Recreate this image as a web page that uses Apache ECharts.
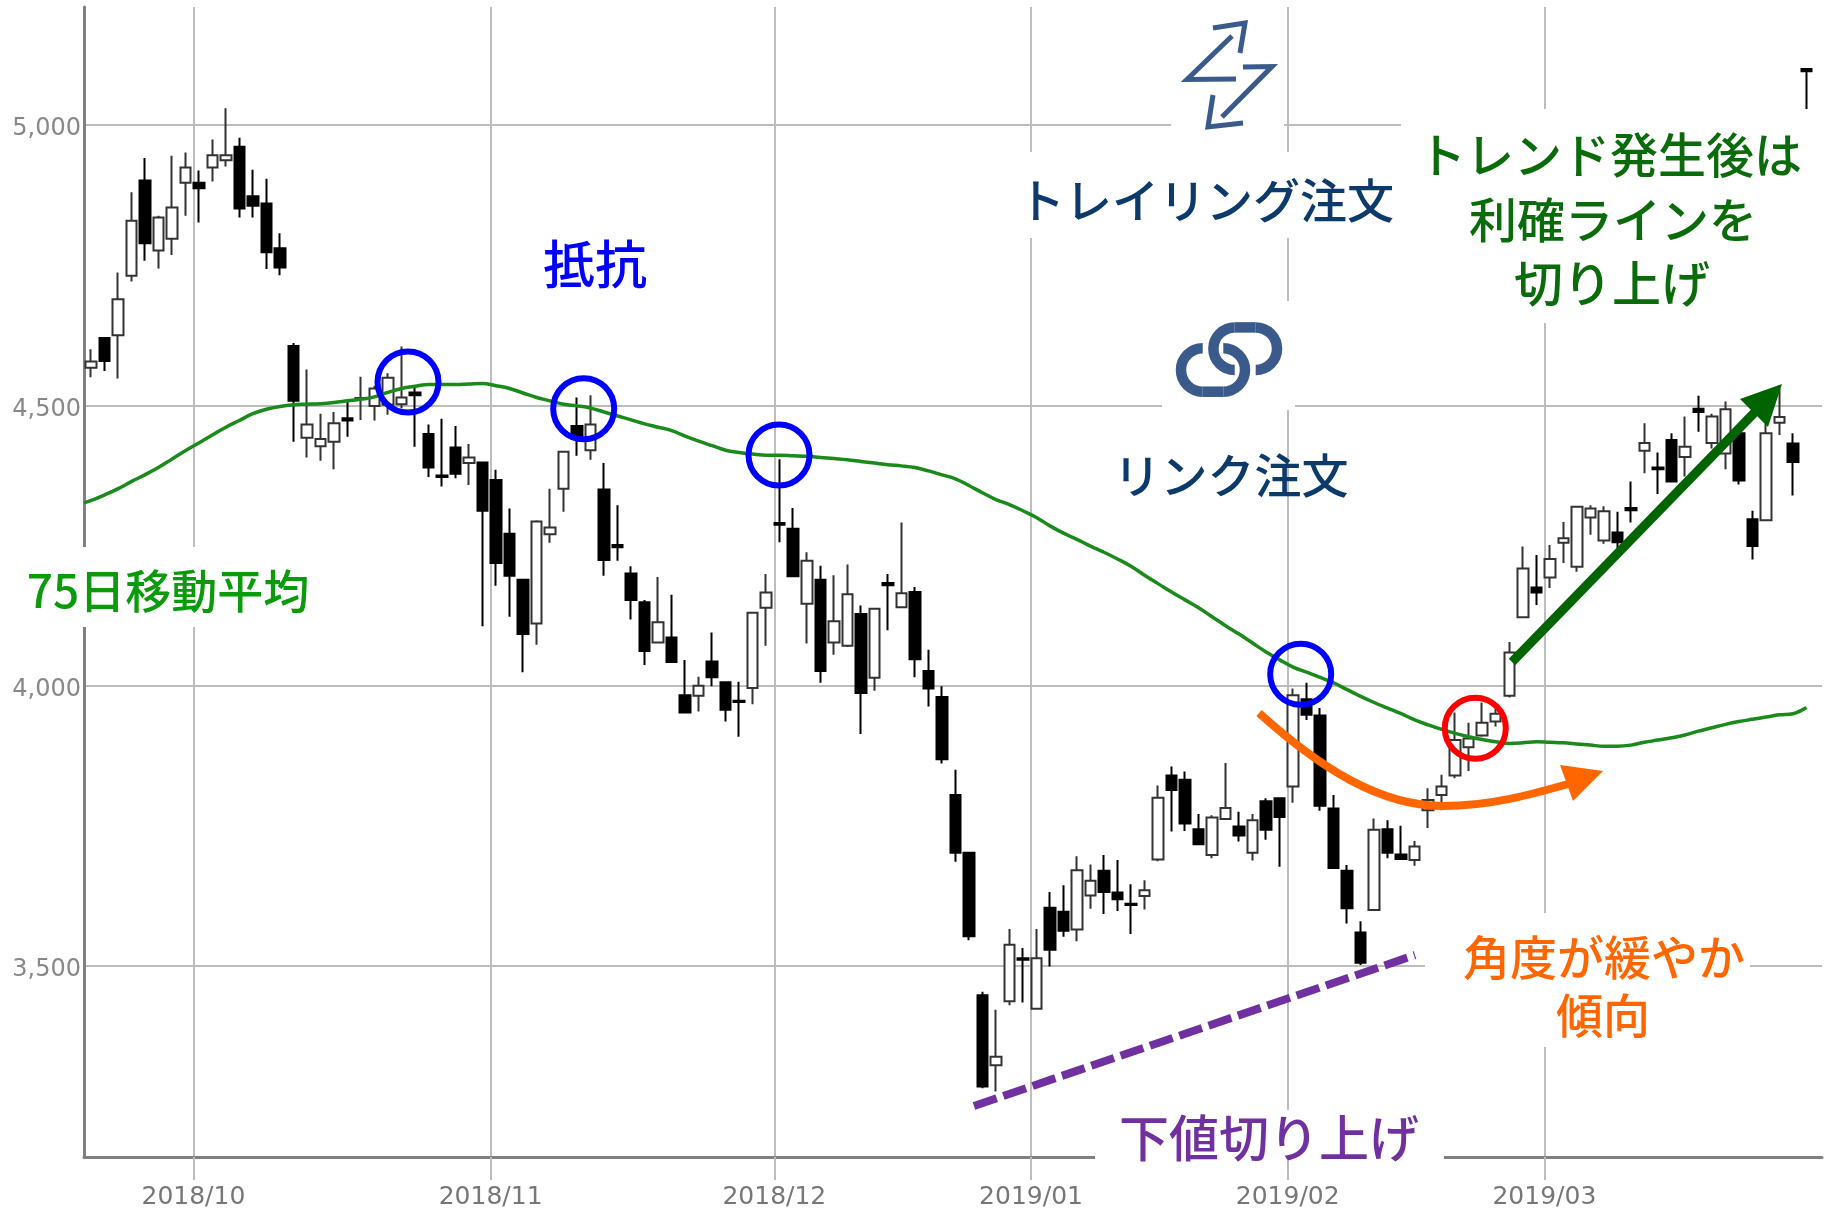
<!DOCTYPE html>
<html>
<head>
<meta charset="utf-8">
<title>トレイリング注文</title>
<style>
  html, body { margin: 0; padding: 0; background: #fff; }
  #main { width: 1831px; height: 1211px; }
</style>
<script src="https://cdn.jsdelivr.net/npm/echarts@6/dist/echarts.min.js"></script>
</head>
<body>
<div id="main"></div>
<script>
const opens = [
  4567,4620,4625,4731,4901,4776,4797,4897,4897,4924,
  4937,4961,4873,4860,4780,4606,4442,4427,4435,4477,
  4511,4499,4501,4502,4523,4449,4375,4425,4397,4398,
  4367,4271,4189,4111,4270,4351,4463,4420,4350,4251,
  4200,4149,4077,4086,3983,3982,4043,4006,3973,3996,
  4139,4290,4280,4146,4189,4077,4071,4128,4014,4183,
  4140,4167,4026,3980,3805,3702,3448,3323,3437,3514,
  3424,3604,3597,3565,3626,3670,3631,3611,3625,3690,
  3840,3832,3744,3698,3762,3749,3702,3794,3799,3820,
  3976,3947,3781,3670,3560,3600,3744,3699,3689,3778,
  3805,3840,3890,3911,3936,3982,4122,4175,4193,4255,
  4212,4300,4259,4273,4317,4419,4389,4438,4408,4494,
  4433,4414,4450,4297,4295,4469,4432,5100
]
const closes = [
  4578,4579,4689,4829,4789,4835,4853,4924,4887,4946,
  4946,4851,4856,4773,4746,4508,4466,4440,4468,4473,
  4513,4530,4549,4514,4518,4389,4372,4378,4407,4312,
  4219,4196,4092,4293,4282,4417,4441,4466,4224,4247,
  4153,4062,4113,4042,3952,4000,4015,3957,3971,4130,
  4166,4287,4195,4223,4026,4115,4163,3987,4137,4179,
  4165,4047,3995,3869,3702,3553,3285,3338,3538,3511,
  3514,3529,3563,3671,3652,3632,3619,3609,3635,3800,
  3814,3754,3717,3765,3782,3733,3760,3743,3766,3983,
  3948,3786,3675,3603,3506,3743,3702,3691,3713,3796,
  3820,3903,3906,3934,3950,4059,4209,4166,4226,4263,
  4319,4316,4311,4256,4313,4433,4386,4364,4426,4488,
  4480,4493,4366,4249,4450,4479,4399,5096
]
const lows = [
  4550,4561,4548,4721,4758,4744,4768,4838,4826,4899,
  4926,4835,4835,4743,4732,4435,4407,4401,4386,4444,
  4474,4473,4483,4495,4426,4372,4355,4370,4358,4106,
  4178,4123,4024,4073,4255,4310,4410,4403,4196,4223,
  4118,4037,4076,4041,3951,3954,3999,3936,3909,3967,
  4071,4256,4195,4075,4005,4055,4069,3914,3991,4099,
  4139,4015,3963,3861,3686,3546,3282,3276,3430,3435,
  3423,3499,3552,3544,3602,3593,3598,3557,3601,3687,
  3740,3741,3716,3692,3761,3722,3688,3725,3677,3791,
  3939,3777,3674,3576,3502,3599,3692,3689,3679,3746,
  3778,3835,3848,3909,3927,3979,4121,4144,4174,4219,
  4203,4269,4253,4245,4291,4379,4342,4363,4373,4453,
  4423,4386,4359,4225,4295,4447,4339,5028
]
const highs = [
  4600,4622,4737,4880,4941,4838,4945,4951,4919,4974,
  5030,4977,4920,4904,4807,4611,4564,4485,4488,4507,
  4551,4535,4557,4605,4533,4466,4476,4463,4431,4400,
  4385,4316,4190,4295,4351,4418,4514,4518,4397,4322,
  4213,4153,4194,4162,4046,4016,4095,4007,4007,4131,
  4199,4404,4317,4238,4214,4197,4216,4143,4138,4199,
  4291,4176,4064,3999,3850,3703,3454,3422,3566,3532,
  3566,3632,3644,3696,3681,3698,3689,3646,3653,3822,
  3856,3847,3771,3769,3862,3775,3771,3799,3800,3995,
  4005,3960,3805,3680,3580,3763,3760,3750,3723,3817,
  3841,3952,3934,3970,3969,4078,4248,4233,4251,4292,
  4320,4322,4320,4310,4364,4468,4416,4450,4480,4517,
  4485,4507,4456,4312,4468,4530,4450,5100
]
const ma75 = [
  4330,4340,4351,4364,4376,4389,4404,4419,4433,4447,
  4461,4473,4485,4493,4498,4501,4502,4503,4505,4508,
  4511,4515,4523,4530,4534,4537,4537,4537,4538,4539,
  4535,4530,4522,4514,4508,4502,4499,4495,4488,4481,
  4474,4467,4461,4455,4445,4436,4428,4420,4416,4413,
  4411,4411,4410,4409,4407,4405,4403,4400,4397,4394,
  4392,4389,4383,4376,4369,4357,4344,4332,4323,4312,
  4300,4285,4272,4261,4249,4238,4226,4213,4197,4182,
  4167,4153,4139,4123,4107,4092,4076,4060,4046,4033,
  4024,4015,4005,3993,3981,3970,3960,3950,3939,3930,
  3922,3915,3909,3904,3900,3897,3898,3900,3899,3898,
  3896,3894,3892,3892,3894,3899,3903,3907,3912,3919,
  3925,3931,3936,3940,3944,3948,3950,3961
]
// the line comes in from the left, already running at the axis
const maAtAxis = 4326
const monthLabels = ['2018/10', '2018/11', '2018/12', '2019/01', '2019/02', '2019/03']
const monthStarts = [8, 30, 51, 70, 89, 108]
const priceTicks = [3500, 4000, 4500, 5000]

// month lines sit just left of the first candle of the month
const monthTicks = monthStarts.map(function(i) { return i - 0.4 })
const candleData = opens.map(function(o, i) { return [i, o, closes[i], lows[i], highs[i]] })
const maData = [[-0.5, maAtAxis]].concat(ma75.map(function(v, i) { return [i, v] }))

const JP_FONT = '"Noto Sans CJK JP", sans-serif'
const ICON = '#3a5a8c'
const NAVY = '#0b3a6b'
const GRID = '#bdbdbd'
const AXIS = '#808080'

function whiteBox(x, y, width, height) {
  return { type: 'rect', z: 50, silent: true, shape: { x: x, y: y, width: width, height: height }, style: { fill: '#fff' }}
}
function label(text, x, y, size, color) {
  return {
    type: 'text', z: 52, silent: true,
    style: { text: text, x: x, y: y, align: 'center', verticalAlign: 'middle', fill: color, fontSize: size, fontWeight: 500, fontFamily: JP_FONT }
  }
}
function ring(cx, cy, color) {
  return { type: 'circle', z: 52, silent: true, shape: { cx: cx, cy: cy, r: 30.5 }, style: { fill: 'none', stroke: color, lineWidth: 6 }}
}
function iconLine(points) {
  return { type: 'polyline', z: 52, silent: true, shape: { points: points }, style: { fill: 'none', stroke: ICON, lineWidth: 5, lineJoin: 'miter' }}
}
function iconArc(cx, cy, r, from, to, color, width) {
  return { type: 'arc', z: 52, silent: true, shape: { cx: cx, cy: cy, r: r, startAngle: from, endAngle: to, clockwise: true }, style: { fill: 'none', stroke: color || ICON, lineWidth: width || 10.5 }}
}
function iconBar(x1, y1, x2, y2) {
  return { type: 'line', z: 52, silent: true, shape: { x1: x1, y1: y1, x2: x2, y2: y2 }, style: { stroke: ICON, lineWidth: 10.5 }}
}

const HALF = Math.PI / 2
const annotations = [
  // white patches from the slide, they cut the grid lines
  whiteBox(0, 547, 316, 80),
  whiteBox(1171, 9, 113, 142),
  whiteBox(1026, 152, 375, 86),
  whiteBox(1162, 301, 133, 109),
  whiteBox(1401, 109, 430, 214),
  whiteBox(1425, 913, 325, 134),
  whiteBox(1095, 1110, 349, 50),

  label('抵抗', 595, 264, 52, '#0000ff'),
  label('75日移動平均', 168, 591, 46, '#0a9a0a'),
  label('トレイリング注文', 1206, 200, 47, NAVY),
  label('リンク注文', 1231, 475, 47, NAVY),
  label('トレンド発生後は', 1610, 155, 48, '#0a6b0a'),
  label('利確ラインを', 1613, 220, 48, '#0a6b0a'),
  label('切り上げ', 1612, 283, 49, '#0a6b0a'),
  label('角度が緩やか', 1604, 957, 47, '#ff6600'),
  label('傾向', 1603, 1015, 47, '#ff6600'),
  label('下値切り上げ', 1269, 1138, 50, '#7030a0'),

  ring(408, 382, '#0000ff'),
  ring(583.7, 408.7, '#0000ff'),
  ring(779, 455, '#0000ff'),
  ring(1300.7, 674.3, '#0000ff'),
  ring(1475.3, 728.3, '#ff0000'),

  // support line
  { type: 'line', z: 51, silent: true, shape: { x1: 974, y1: 1106, x2: 1415, y2: 955 }, style: { stroke: '#7030a0', lineWidth: 8, lineDash: [24, 7] }},
  // flattening curve
  { type: 'bezierCurve', z: 51, silent: true, shape: { x1: 1259, y1: 713, cpx1: 1320, cpy1: 768, cpx2: 1380, cpy2: 806, x2: 1443, y2: 806 }, style: { fill: 'none', stroke: '#ff6600', lineWidth: 8 }},
  { type: 'bezierCurve', z: 51, silent: true, shape: { x1: 1443, y1: 806, cpx1: 1490, cpy1: 806, cpx2: 1530, cpy2: 795, x2: 1575, y2: 782 }, style: { fill: 'none', stroke: '#ff6600', lineWidth: 8 }},
  { type: 'polygon', z: 51, silent: true, shape: { points: [[1603, 771], [1560, 765], [1573, 801]] }, style: { fill: '#ff6600' }},
  // trend arrow
  { type: 'line', z: 51, silent: true, shape: { x1: 1512, y1: 662, x2: 1757, y2: 410 }, style: { stroke: '#006400', lineWidth: 9 }},
  { type: 'polygon', z: 51, silent: true, shape: { points: [[1782, 384], [1740, 399], [1768, 427]] }, style: { fill: '#006400' }},

  // trailing icon
  iconLine([[1213, 28], [1245, 23], [1240, 53]]),
  iconLine([[1232, 36], [1187, 79.5], [1236, 79]]),
  iconLine([[1243, 67], [1272, 66.5], [1222, 117]]),
  iconLine([[1213, 95], [1208, 127], [1243, 123]]),

  // link icon
  iconArc(1202.7, 370, 21.7, HALF, HALF * 3),
  iconBar(1202.7, 391.7, 1223.3, 391.7),
  iconArc(1223.3, 370, 21.7, -HALF, HALF),
  iconArc(1234.7, 348.7, 21.3, HALF * 1.6, HALF * 3, '#fff', 14),
  iconArc(1234.7, 348.7, 21.3, HALF, HALF * 3),
  iconBar(1234.7, 327.4, 1255.7, 327.4),
  iconArc(1255.7, 348.7, 21.3, -HALF, HALF)
]

const chart = echarts.init(document.getElementById('main'), null, { renderer: 'canvas' })
chart.setOption({
  animation: false,
  backgroundColor: '#fff',
  grid: { left: 84, top: 7, width: 1738, height: 1150, containLabel: false },
  xAxis: {
    type: 'value',
    min: -0.5,
    max: 128.15,
    axisLine: { onZero: false, lineStyle: { color: AXIS, width: 3 }},
    axisTick: { customValues: monthTicks, length: 23, lineStyle: { color: GRID, width: 2 }},
    axisLabel: {
      customValues: monthTicks,
      margin: 28,
      fontSize: 25,
      color: '#777',
      fontFamily: 'DejaVu Sans',
      formatter: function(value) {
        return monthLabels[monthTicks.indexOf(value)]
      }
    },
    splitLine: { show: true, lineStyle: { color: GRID, width: 2 }}
  },
  yAxis: {
    type: 'value',
    min: 3159.4,
    max: 5210.4,
    axisLine: { show: true, onZero: false, lineStyle: { color: AXIS, width: 3 }},
    axisTick: { show: false, customValues: priceTicks },
    axisLabel: {
      customValues: priceTicks,
      margin: 3,
      verticalAlign: 'top',
      lineHeight: 8,
      fontSize: 24,
      color: '#888',
      fontFamily: 'DejaVu Sans',
      formatter: function(value) {
        return value.toLocaleString('en-US')
      }
    },
    splitLine: { show: true, lineStyle: { color: GRID, width: 2 }}
  },
  series: [
    {
      type: 'candlestick',
      barWidth: 11,
      encode: { x: 0, y: [1, 2, 3, 4] },
      itemStyle: {
        color: '#fff',
        color0: '#000',
        borderColor: '#333',
        borderColor0: '#000',
        borderWidth: 2
      },
      data: candleData
    },
    {
      type: 'line',
      z: 3,
      showSymbol: false,
      smooth: 0.4,
      lineStyle: { color: '#1a8a1a', width: 3.5 },
      data: maData
    }
  ],
  graphic: { elements: annotations }
})
</script>
</body>
</html>
